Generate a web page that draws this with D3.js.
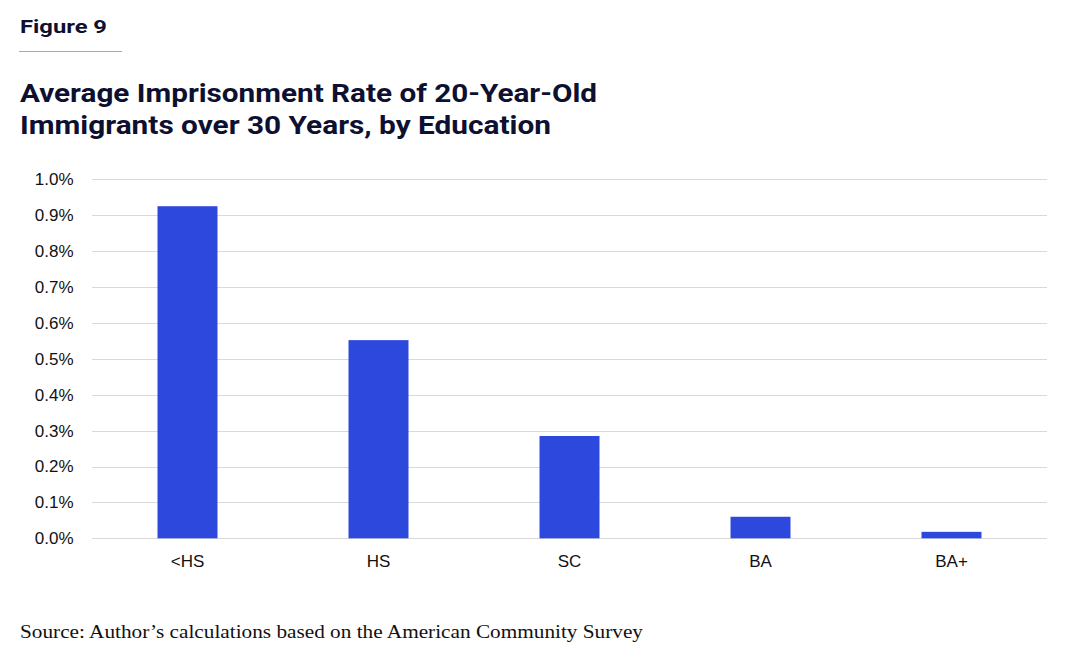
<!DOCTYPE html>
<html>
<head>
<meta charset="utf-8">
<script src="https://cdn.jsdelivr.net/npm/d3@7/dist/d3.min.js"></script>
<style>
  html, body { margin: 0; padding: 0; background: #ffffff; }
  svg { display: block; }
</style>
</head>
<body>
<svg id="chart" width="1075" height="669"></svg>
<script>
const categories = ["<HS", "HS", "SC", "BA", "BA+"];
const rates = [0.925, 0.552, 0.285, 0.060, 0.018];
const yTicks = [0, 0.1, 0.2, 0.3, 0.4, 0.5, 0.6, 0.7, 0.8, 0.9, 1.0];
const figureLabel = "Figure 9";
const titleLines = ["Average Imprisonment Rate of 20-Year-Old", "Immigrants over 30 Years, by Education"];
const sourceText = "Source: Author\u2019s calculations based on the American Community Survey";

const svg = d3.select("#chart");
const navy = "#0d1030";
const margin = { left: 92, right: 1047, top: 179.3, bottom: 538.3 };

// Header
svg.append("text")
  .attr("x", 20).attr("y", 33)
  .attr("font-family", "Roboto, 'Liberation Sans', sans-serif")
  .attr("font-weight", 700).attr("font-size", 19)
  .attr("fill", navy)
  .attr("textLength", 87).attr("lengthAdjust", "spacingAndGlyphs")
  .text(figureLabel);

svg.append("line")
  .attr("x1", 19).attr("x2", 122).attr("y1", 51.5).attr("y2", 51.5)
  .attr("stroke", "#e9a23b").attr("stroke-width", 1);

const titleWidths = [577, 531];
svg.selectAll("text.title").data(titleLines).enter().append("text")
  .attr("class", "title")
  .attr("x", 20).attr("y", (d, i) => 102 + i * 32)
  .attr("font-family", "Roboto, 'Liberation Sans', sans-serif")
  .attr("font-weight", 700).attr("font-size", 26.5)
  .attr("fill", navy)
  .attr("textLength", (d, i) => titleWidths[i]).attr("lengthAdjust", "spacingAndGlyphs")
  .text(d => d);

// Scales
const x = d3.scaleBand().domain(categories).range([margin.left, margin.right]).paddingInner(0.686).paddingOuter(0.343);
const y = d3.scaleLinear().domain([0, 1.0]).range([margin.bottom, margin.top]);

// Gridlines
svg.append("g").selectAll("line").data(yTicks).enter().append("line")
  .attr("x1", margin.left).attr("x2", margin.right)
  .attr("y1", d => Math.round(y(d)) + 0.5).attr("y2", d => Math.round(y(d)) + 0.5)
  .attr("stroke", "#d9d9d9").attr("stroke-width", 1);

// Y axis
const yAxis = d3.axisLeft(y).tickValues(yTicks).tickSize(0).tickPadding(0)
  .tickFormat(d => d.toFixed(1) + "%");
const gy = svg.append("g").attr("transform", "translate(73.5,0)").call(yAxis);
gy.select(".domain").remove();
gy.selectAll("text")
  .attr("font-family", "'Liberation Sans', Arial, sans-serif")
  .attr("font-size", 17).attr("fill", "#111111");

// Bars
svg.append("g").selectAll("rect").data(categories).enter().append("rect")
  .attr("x", d => x(d))
  .attr("width", x.bandwidth())
  .attr("y", (d, i) => y(rates[i]))
  .attr("height", (d, i) => y(0) - y(rates[i]))
  .attr("fill", "#2d48dc");

// X axis
const xAxis = d3.axisBottom(x).tickSize(0).tickPadding(0);
const gx = svg.append("g").attr("transform", "translate(0,555)").call(xAxis);
gx.select(".domain").remove();
gx.selectAll("text")
  .attr("font-family", "'Liberation Sans', Arial, sans-serif")
  .attr("font-size", 17).attr("fill", "#111111");

// Source
svg.append("text")
  .attr("x", 20).attr("y", 638)
  .attr("font-family", "'Liberation Serif', 'DejaVu Serif', serif")
  .attr("font-size", 19.5).attr("fill", "#111111")
  .attr("textLength", 623).attr("lengthAdjust", "spacingAndGlyphs")
  .text(sourceText);
</script>
</body>
</html>
